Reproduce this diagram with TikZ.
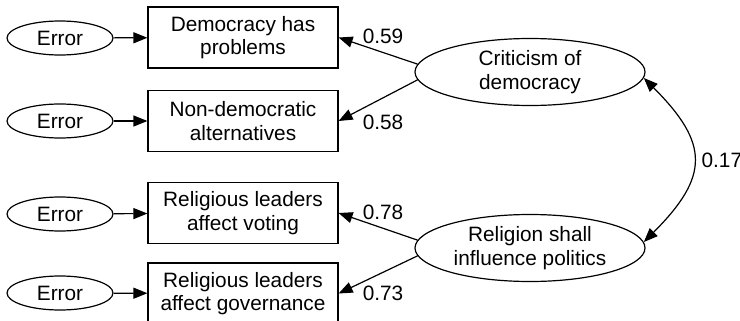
\documentclass[tikz,border=0pt]{standalone}
\usepackage{fontspec}
\setmainfont{Liberation Sans}
\usetikzlibrary{arrows.meta, positioning, calc, shapes.geometric}

\begin{document}
\begin{tikzpicture}[
    x=0.5pt, y=-0.5pt,
    % --- 스타일 정의 ---
    % 1. 노드 스타일
    errnode/.style={ellipse, draw=black, line width=0.6pt, minimum width=53pt, minimum height=17pt, inner sep=0pt, font=\fontsize{10.4}{11.8}\selectfont},
    itembox/.style={rectangle, draw=black, line width=0.6pt, minimum width=95pt, minimum height=30.5pt, inner sep=0pt, align=center, font=\fontsize{10.4}{11.8}\selectfont},
    latent/.style={ellipse, draw=black, line width=0.6pt, minimum width=115pt, minimum height=33.5pt, inner sep=0pt, align=center, font=\fontsize{10.4}{11.8}\selectfont},
    % 2. 화살표 스타일
    stdarrow/.style={-{Triangle[length=7pt, width=5.5pt]}, line width=0.6pt},
    corrarrow/.style={{Triangle[length=7pt, width=5.5pt]}-{Triangle[length=7pt, width=5.5pt]}, line width=0.6pt},
    % 3. 텍스트 라벨 스타일
    loadtext/.style={font=\fontsize{10.4}{11.8}\selectfont, inner sep=0pt}
]
\useasboundingbox (0,0) rectangle (740,321);

% === 1단계: 노드 배치 ===
\node[errnode] (err1) at (60, 38) {Error};
\node[errnode] (err2) at (60, 121) {Error};
\node[errnode] (err3) at (60, 214) {Error};
\node[errnode] (err4) at (60, 293) {Error};

\node[itembox] (dem)  at (243, 37.5)  {Democracy has\\problems};
\node[itembox] (alt)  at (243, 121)   {Non-democratic\\alternatives};
\node[itembox] (vote) at (243, 213)   {Religious leaders\\affect voting};
\node[itembox] (gov)  at (243, 293.5) {Religious leaders\\affect governance};

\node[latent] (crit)  at (530, 72)  {Criticism of\\democracy};
\node[latent] (relig) at (530, 248) {Religion shall\\influence politics};

% === 2단계: 화살표 그리기 ===
% --- 오차 -> 관측변수 ---
\draw[stdarrow] (err1) -- (dem);
\draw[stdarrow] (err2) -- (alt);
\draw[stdarrow] (err3) -- (vote);
\draw[stdarrow] (err4) -- (gov);

% --- 잠재변수 -> 관측변수 (요인적재량) ---
\draw[stdarrow] (crit.176) -- (dem.east);
\node[loadtext] at (383, 36) {0.59};
\draw[stdarrow] (crit.184) -- (alt.east);
\node[loadtext] at (383, 122) {0.58};

\draw[stdarrow] (relig.176) -- (vote.east);
\node[loadtext] at (383, 212) {0.78};
\draw[stdarrow] (relig.184) -- (gov.east);
\node[loadtext] at (383, 293) {0.73};

% --- 상관 (양방향 곡선) ---
\draw[corrarrow] (crit.-3) to[out=-45, in=45, looseness=1.45] node[right, loadtext, xshift=4pt] {0.17} (relig.3);

\end{tikzpicture}
\end{document}
